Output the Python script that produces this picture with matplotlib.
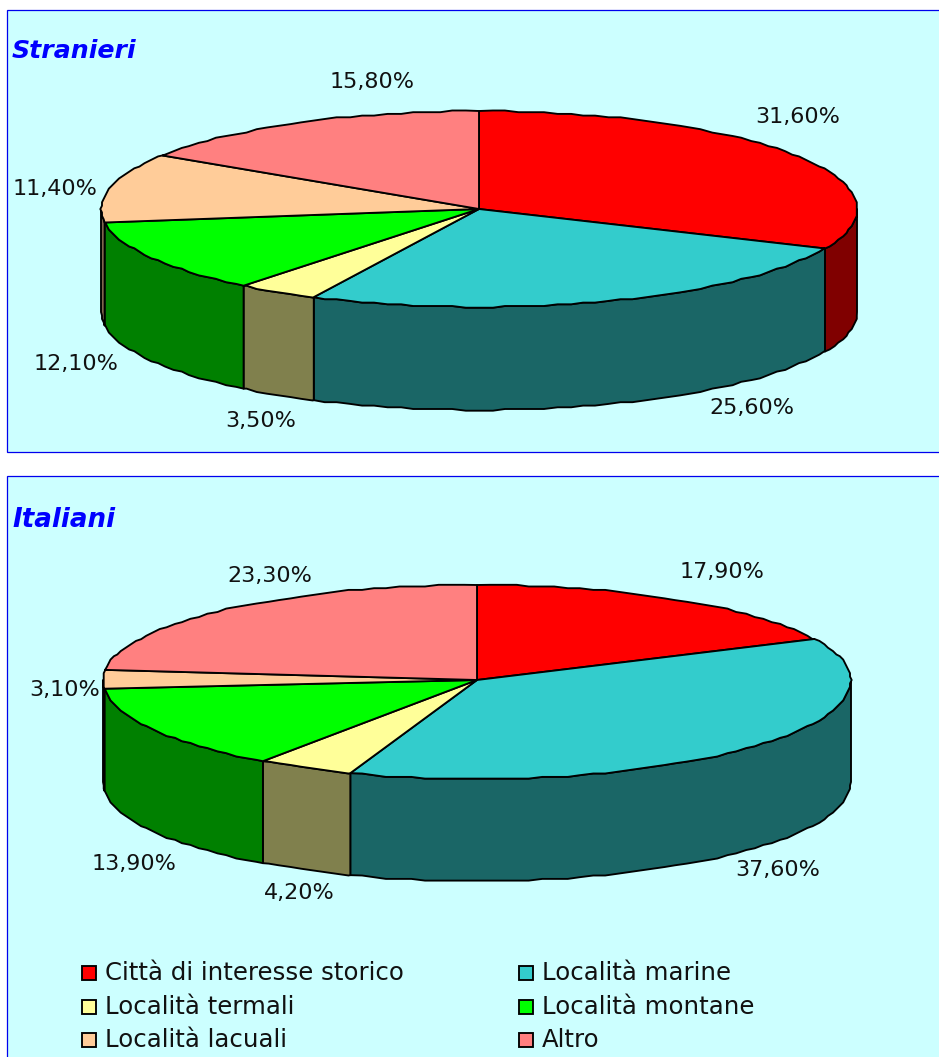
import numpy as np
import matplotlib
matplotlib.use("Agg")
import matplotlib.pyplot as plt
from matplotlib.patches import Polygon, Rectangle

categories = ["Città di interesse storico", "Località marine", "Località termali",
              "Località montane", "Località lacuali", "Altro"]
stranieri = [31.6, 25.6, 3.5, 12.1, 11.4, 15.8]
italiani = [17.9, 37.6, 4.2, 13.9, 3.1, 23.3]
top_colors = ["#FF0000", "#33CCCC", "#FFFF99", "#00FF00", "#FFCC99", "#FF8080"]
wall_colors = ["#800000", "#1A6666", "#80804D", "#008000", "#80664D", "#804040"]

W, H = 939, 1057
PANEL_BG = "#CCFFFF"
BORDER = "#0000EE"
LW = 1.35
GRID = 1.7      # the outline is a coarse polyline snapped to this pixel grid
STEP = 2.0      # degrees between polyline vertices

fig = plt.figure(figsize=(W / 100, H / 100), dpi=100, facecolor="white")
ax = fig.add_axes([0, 0, 1, 1])
ax.set_xlim(0, W)
ax.set_ylim(H, 0)
ax.axis("off")


def rim(shape, a0, a1, dy=0):
    """Points along the rim, angles in degrees clockwise from twelve o'clock."""
    cx, cy, rx, ry_back, ry_front = shape
    lo, hi = min(a0, a1), max(a0, a1)
    inner = np.arange(np.ceil(lo / STEP) * STEP, hi, STEP)
    inner = inner[inner > lo]
    ang = np.concatenate([[lo], inner, [hi]])
    if a0 > a1:
        ang = ang[::-1]
    t = np.radians(ang)
    c = np.cos(t)
    x = cx + rx * np.sin(t)
    y = cy - np.where(c > 0, ry_back, ry_front) * c
    x[1:-1] = np.round(x[1:-1] / GRID) * GRID
    y[1:-1] = np.round(y[1:-1] / GRID) * GRID
    return np.column_stack([x, y + dy])


def draw_pie(values, shape, depth):
    cx, cy = shape[:2]
    edges = np.concatenate([[0], np.cumsum(values)]) / sum(values) * 360
    # side walls: only the front half of the drum shows
    for i in range(len(values)):
        a0, a1 = max(edges[i], 90), min(edges[i + 1], 270)
        if a1 <= a0:
            continue
        front = rim(shape, a0, a1)
        back = rim(shape, a1, a0, depth)
        ax.add_patch(Polygon(np.vstack([front, back]), closed=True, fc=wall_colors[i],
                             ec="black", lw=LW, joinstyle="round", zorder=2))
    # top face
    for i in range(len(values)):
        pts = np.vstack([[cx, cy], rim(shape, edges[i], edges[i + 1])])
        ax.add_patch(Polygon(pts, closed=True, fc=top_colors[i], ec="black",
                             lw=LW, joinstyle="round", zorder=3))


def draw_labels(values, positions):
    for v, (x, y) in zip(values, positions):
        ax.text(x, y, f"{v:.2f}%".replace(".", ","), ha="center", va="center",
                fontsize=16, color="#111111", zorder=5)


# panels
ax.add_patch(Rectangle((6.5, 9.5), W, 442, fc=PANEL_BG, ec=BORDER, lw=0.9, zorder=1))
ax.add_patch(Rectangle((6.5, 475.5), W, H, fc=PANEL_BG, ec=BORDER, lw=0.9, zorder=1))

ax.text(12, 51, "Stranieri", fontsize=18.2, fontweight="bold", fontstyle="italic",
        color="#0000FF", va="center", ha="left")
ax.text(12, 520, "Italiani", fontsize=18.8, fontweight="bold", fontstyle="italic",
        color="#0000FF", va="center", ha="left")

draw_pie(stranieri, (479, 209, 378, 98, 98), 103)
draw_pie(italiani, (477, 680, 374, 95, 99), 102)

draw_labels(stranieri, [(798, 117), (752, 408), (261, 421), (76, 364), (55, 189), (372, 82)])
draw_labels(italiani, [(722, 572), (778, 870), (299, 893), (134, 864), (65, 690), (270, 576)])

# legend, filled row by row
legend_cols = [82, 519]
legend_rows = [973, 1007, 1040]
for i, name in enumerate(categories):
    x = legend_cols[i % 2]
    y = legend_rows[i // 2]
    ax.add_patch(Rectangle((x, y - 7), 14, 14, fc=top_colors[i], ec="black", lw=LW, zorder=4))
    ax.text(x + 23, y, name, fontsize=17.6, color="#111111", va="center", ha="left", zorder=5)

fig.savefig("out.png", dpi=100, facecolor="white")
